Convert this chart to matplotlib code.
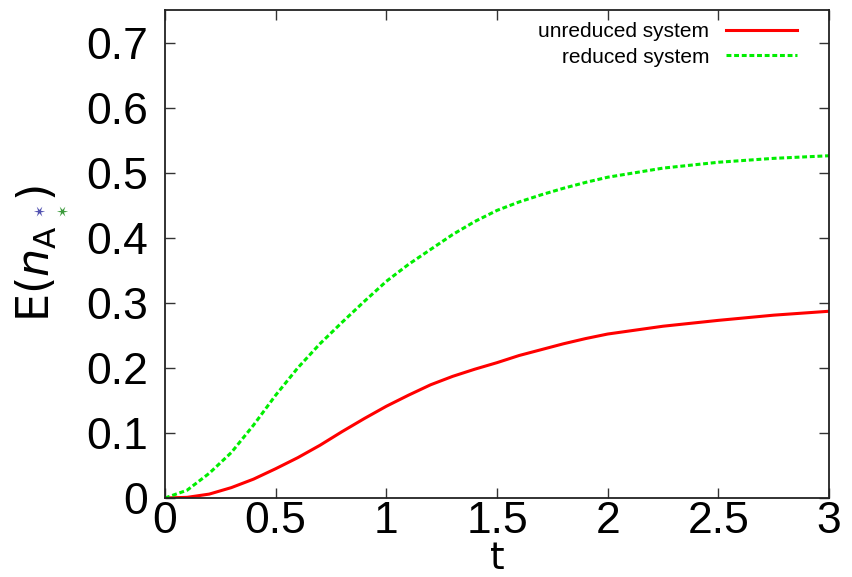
import matplotlib
matplotlib.use("Agg")
import matplotlib.pyplot as plt

# values
t_values = [0.0, 0.1, 0.2, 0.3, 0.4, 0.5, 0.6, 0.7, 0.8, 0.9, 1.0, 1.1, 1.2, 1.3, 1.4,
            1.5, 1.6, 1.7, 1.8, 1.9, 2.0, 2.25, 2.5, 2.75, 3.0]
unreduced = [0.0, 0.001, 0.006, 0.016, 0.029, 0.045, 0.062, 0.081, 0.102, 0.122, 0.141,
             0.158, 0.174, 0.187, 0.198, 0.208, 0.219, 0.228, 0.237, 0.245, 0.252,
             0.264, 0.273, 0.281, 0.287]
reduced = [0.0, 0.012, 0.038, 0.07, 0.112, 0.158, 0.2, 0.237, 0.27, 0.302, 0.333,
           0.359, 0.382, 0.405, 0.425, 0.442, 0.455, 0.466, 0.476, 0.485, 0.493,
           0.507, 0.516, 0.522, 0.526]
series_labels = ["unreduced system", "reduced system"]
x_ticks = [0, 0.5, 1, 1.5, 2, 2.5, 3]
x_tick_labels = ["0", "0.5", "1", "1.5", "2", "2.5", "3"]
y_ticks = [0, 0.1, 0.2, 0.3, 0.4, 0.5, 0.6, 0.7]
y_tick_labels = ["0", "0.1", "0.2", "0.3", "0.4", "0.5", "0.6", "0.7"]

plt.rcParams['font.family'] = ['Liberation Sans', 'DejaVu Sans']
plt.rcParams['mathtext.fontset'] = 'dejavusans'

W, H = 852, 577
fig = plt.figure(figsize=(W/100, H/100), dpi=100)
ax = fig.add_axes([165/W, 1 - 498/H, (829-165)/W, (498-10)/H])

ax.plot(t_values, unreduced, color='#ff0000', lw=2.2, label=series_labels[0])
ax.plot(t_values, reduced, color='#00ee00', lw=2.2, dashes=(1.6, 0.9), label=series_labels[1])

ax.set_xlim(0, 3)
ax.set_ylim(0, 0.75)
ax.set_xticks(x_ticks)
ax.set_xticklabels(x_tick_labels)
ax.set_yticks(y_ticks)
ax.set_yticklabels(y_tick_labels)
ax.tick_params(direction='in', length=7, width=1, top=True, right=True,
               labelsize=32, color='#333333')
ax.tick_params(axis='x', pad=2)
ax.tick_params(axis='y', pad=12)
for s in ax.spines.values():
    s.set_linewidth(1.3)
    s.set_color('#222222')

leg = ax.legend(loc='upper right', bbox_to_anchor=(0.97, 1.0), frameon=False,
                markerfirst=False, fontsize=15, handlelength=3.4,
                labelspacing=0.3, handletextpad=0.8, borderaxespad=0.2)
for txt in leg.get_texts():
    txt.set_ha('right')

# x label
fig.text(497/W, 0, 't', family='DejaVu Sans', fontsize=27,
         ha='center', va='bottom')

# y label, split in pieces so the two coloured stars sit between A and ")"
fig.text(50/W, 1 - 322/H, r'$\mathrm{E}(n_{\mathrm{A}}$', fontsize=32,
         rotation=90, rotation_mode='anchor', ha='left', va='baseline')
fig.text(50/W, 1 - 201/H, r'$)$', fontsize=32,
         rotation=90, rotation_mode='anchor', ha='left', va='baseline')
fig.text(40/W, 1 - 210/H, '\u2736', family='DejaVu Sans', fontsize=11,
         color='#5050b0', rotation=90, ha='center', va='center')
fig.text(63/W, 1 - 210/H, '\u2736', family='DejaVu Sans', fontsize=11,
         color='#3a9a3a', rotation=90, ha='center', va='center')

fig.savefig('out.png', dpi=100)
